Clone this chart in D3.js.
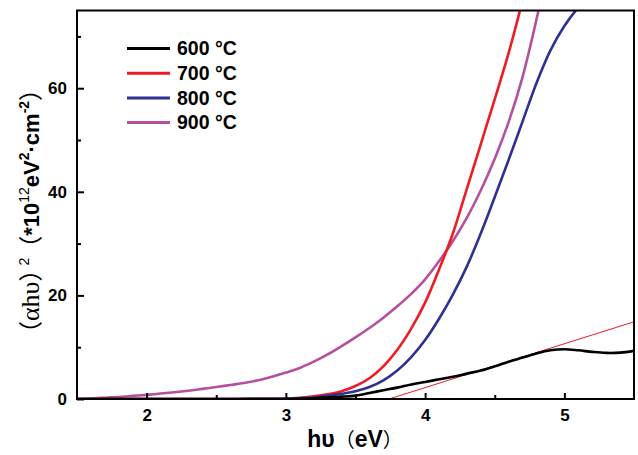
<!DOCTYPE html>
<html>
  <head>
    <meta charset="utf-8" />
    <style>
      body { margin: 0; background: #fff; }
    </style>
  </head>
  <body>

<svg id="graph"></svg>

<script src="https://d3js.org/d3.v7.min.js"></script>
<script>
const WIDTH = 638
const HEIGHT = 455

// plot box
const LEFT = 77
const RIGHT = 634
const TOP = 10.5
const BOTTOM = 399

// photon energy (eV)
const ENERGY = [1.5, 1.6, 1.7, 1.8, 1.9, 2.0, 2.1, 2.2, 2.3, 2.4, 2.5, 2.6, 2.7, 2.8, 2.9,
  3.0, 3.1, 3.2, 3.3, 3.4, 3.5, 3.6, 3.7, 3.8, 3.9, 4.0, 4.1, 4.2, 4.3, 4.4,
  4.5, 4.6, 4.7, 4.8, 4.9, 5.0, 5.1, 5.2, 5.3, 5.4, 5.5]

// (αhυ)² values, *10^12 eV².cm⁻²
const T600 = [0, 0, 0, 0, 0, 0, 0, 0, 0, 0, 0, 0, 0, 0, 0,
  0, 0.05, 0.15, 0.3, 0.45, 0.65, 1.15, 1.7, 2.2, 2.8, 3.3, 3.8, 4.3, 4.9, 5.5,
  6.3, 7.2, 8.0, 8.8, 9.4, 9.6, 9.4, 9.1, 8.9, 8.95, 9.3]
const T700 = [0, 0, 0, 0, 0, 0, 0, 0, 0, 0, 0, 0, 0.02, 0.03, 0.05,
  0.1, 0.25, 0.5, 0.9, 1.5, 2.5, 4.0, 6.3, 9.5, 13.6, 18.6, 25.0, 32.0, 40.6, 49.2,
  57.9, 66.8, 77.0, 88, 100, 110, 120, 130, 140, 150, 160]
const T800 = [0, 0, 0, 0, 0, 0, 0, 0, 0, 0, 0, 0, 0.01, 0.02, 0.03,
  0.05, 0.15, 0.3, 0.6, 1.0, 1.5, 2.3, 3.6, 5.5, 8.1, 11.4, 15.5, 20.2, 25.6, 32.0,
  39.0, 46.2, 53.6, 61.0, 67.3, 72.0, 75.6, 78.5, 81, 83, 85]
const T900 = [0, 0.1, 0.25, 0.4, 0.6, 0.8, 1.05, 1.3, 1.6, 1.95, 2.3, 2.7, 3.1, 3.6, 4.3,
  5.1, 6.0, 7.2, 8.6, 10.2, 11.9, 13.7, 15.7, 17.9, 20.3, 23.1, 26.6, 30.5, 35.0, 40.3,
  46.4, 53.5, 62.2, 73.3, 86, 99, 110, 120, 130, 140, 150]

// tangent line on the 600 °C curve
const FIT_X = [3.74, 5.5]
const FIT_Y = [0, 14.9]

const SERIES = ['600 °C', '700 °C', '800 °C', '900 °C']
const COLORS = ['#000000', '#ed1c24', '#2e3192', '#b5509f']
const VALUES = [T600, T700, T800, T900]

const X_TICKS = [2, 3, 4, 5]
const X_MINOR = [2.5, 3.5, 4.5]
const Y_TICKS = [0, 20, 40, 60]
const Y_MINOR = [10, 30, 50, 70]

const SANS = '"Liberation Sans", Arial, sans-serif'
const CJK = '"Noto Sans CJK SC", sans-serif'
const SERIF = '"Liberation Serif", serif'

const svg = d3.select('#graph')
  .attr('width', WIDTH)
  .attr('height', HEIGHT)
  .style('display', 'block')

const x = d3.scaleLinear().domain([1.5, 5.5]).range([LEFT, RIGHT])
const y = d3.scaleLinear().domain([0, 75]).range([BOTTOM, TOP])

svg.append('clipPath').attr('id', 'clip')
  .append('rect')
  .attr('x', LEFT).attr('y', TOP)
  .attr('width', RIGHT - LEFT).attr('height', BOTTOM - TOP)

const plot = svg.append('g').attr('clip-path', 'url(#clip)')

// thin red tangent
plot.append('path')
  .datum(FIT_X.map((v, i) => [v, FIT_Y[i]]))
  .attr('fill', 'none')
  .attr('stroke', '#ed1c24')
  .attr('stroke-width', 1)
  .attr('d', d3.line().x(d => x(d[0])).y(d => y(d[1])))

const line = d3.line()
  .x(d => x(d[0]))
  .y(d => y(d[1]))
  .curve(d3.curveCatmullRom.alpha(0.5))

// draw order: 600 last so it sits over the fit line
const ORDER = [3, 1, 2, 0]
ORDER.forEach(i => {
  plot.append('path')
    .datum(ENERGY.map((e, j) => [e, VALUES[i][j]]))
    .attr('fill', 'none')
    .attr('stroke', COLORS[i])
    .attr('stroke-width', 2.6)
    .attr('stroke-linejoin', 'round')
    .attr('d', line)
})

// axes, ticks pointing inward
const tickFont = g => g.selectAll('text')
  .attr('font-family', SANS)
  .attr('font-weight', 'bold')
  .attr('font-size', 17)
  .attr('fill', '#000')

const xAxis = svg.append('g')
  .attr('transform', `translate(0,${BOTTOM})`)
  .call(d3.axisBottom(x).tickValues(X_TICKS).tickSize(-6).tickPadding(10).tickFormat(d3.format('d')))
  .call(tickFont)
xAxis.select('.domain').remove()
xAxis.selectAll('line').attr('stroke-width', 2)

const xMinor = svg.append('g')
  .attr('transform', `translate(0,${BOTTOM})`)
  .call(d3.axisBottom(x).tickValues(X_MINOR).tickSize(-4).tickFormat(''))
xMinor.select('.domain').remove()
xMinor.selectAll('line').attr('stroke-width', 2)

const yAxis = svg.append('g')
  .attr('transform', `translate(${LEFT},0)`)
  .call(d3.axisLeft(y).tickValues(Y_TICKS).tickSize(-7).tickPadding(10).tickFormat(d3.format('d')))
  .call(tickFont)
yAxis.select('.domain').remove()
yAxis.selectAll('line').attr('stroke-width', 2)

const yMinor = svg.append('g')
  .attr('transform', `translate(${LEFT},0)`)
  .call(d3.axisLeft(y).tickValues(Y_MINOR).tickSize(-4).tickFormat(''))
yMinor.select('.domain').remove()
yMinor.selectAll('line').attr('stroke-width', 2)

// frame
svg.append('rect')
  .attr('x', LEFT).attr('y', TOP)
  .attr('width', RIGHT - LEFT).attr('height', BOTTOM - TOP)
  .attr('fill', 'none')
  .attr('stroke', '#000')
  .attr('stroke-width', 2)

// legend
const legend = svg.append('g')
SERIES.forEach((s, i) => {
  const ly = 48.5 + i * 24.7
  legend.append('line')
    .attr('x1', 127).attr('x2', 170)
    .attr('y1', ly).attr('y2', ly)
    .attr('stroke', COLORS[i])
    .attr('stroke-width', 3)
  legend.append('text')
    .attr('x', 177).attr('y', ly + 6.8)
    .attr('font-family', SANS)
    .attr('font-weight', 'bold')
    .attr('font-size', 19.5)
    .text(s)
})

// axis titles
const xTitle = svg.append('text')
  .attr('x', 355).attr('y', 447)
  .attr('text-anchor', 'middle')
  .attr('font-size', 23)
xTitle.append('tspan').attr('font-family', SANS).attr('font-weight', 'bold').text('hυ')
xTitle.append('tspan').attr('font-family', CJK).attr('font-size', 20).text('（')
xTitle.append('tspan').attr('font-family', SANS).attr('font-weight', 'bold').text('eV')
xTitle.append('tspan').attr('font-family', CJK).attr('font-size', 20).text('）')

const yTitle = svg.append('text')
  .attr('transform', 'translate(39,211) rotate(-90)')
  .attr('text-anchor', 'middle')
  .attr('font-size', 22)
const part = (txt, fam, bold) => yTitle.append('tspan')
  .attr('font-family', fam).attr('font-weight', bold ? 'bold' : 'normal').text(txt)
const sup = (txt, bold) => yTitle.append('tspan').attr('dy', -10).attr('font-size', 14)
  .attr('font-family', SANS).attr('font-weight', bold ? 'bold' : 'normal').text(txt)
part('（', CJK).attr('font-size', 24)
part('αhυ', SERIF).attr('font-size', 26)
part('）', CJK).attr('font-size', 24)
sup('2').attr('dx', -8)
part('（', CJK).attr('dy', 10).attr('font-size', 24).attr('dx', -2)
part('*10', SANS, true)
sup('12')
part('eV', SANS, true).attr('dy', 10)
sup('2', true)
part('·cm', SANS, true).attr('dy', 10)
sup('-2', true)
part('）', CJK).attr('dy', 10).attr('font-size', 24)
</script>
  </body>
</html>
